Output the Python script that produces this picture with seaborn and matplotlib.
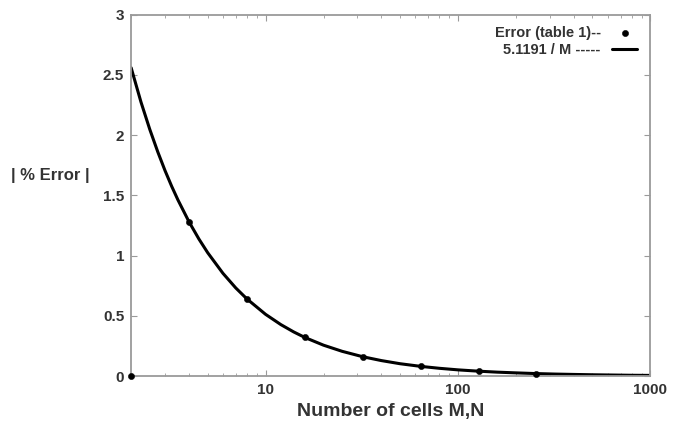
import matplotlib
matplotlib.use("Agg")
import matplotlib.pyplot as plt
import matplotlib.ticker as mticker
import seaborn as sns
import pandas as pd

# measured error values (table 1)
cells_m = [2, 4, 8, 16, 32, 64, 128, 256]
error_pct = [0.0, 1.28, 0.64, 0.32, 0.16, 0.08, 0.04, 0.02]

# fitted curve 5.1191 / M
fit_m = [2, 2.25, 2.5, 2.75, 3, 3.25, 3.5, 4, 4.5, 5, 6, 7, 8, 10, 12, 14,
         16, 20, 25, 32, 40, 50, 64, 80, 100, 128, 160, 200, 256, 320, 400,
         512, 640, 800, 1000]
fit_err = [2.560, 2.275, 2.048, 1.862, 1.706, 1.575, 1.463, 1.280, 1.138,
           1.024, 0.853, 0.731, 0.640, 0.512, 0.427, 0.366, 0.320, 0.256,
           0.205, 0.160, 0.128, 0.102, 0.080, 0.064, 0.051, 0.040, 0.032,
           0.026, 0.020, 0.016, 0.013, 0.010, 0.008, 0.006, 0.005]

x_ticks = [10, 100, 1000]
x_tick_labels = ["10", "100", "1000"]
y_ticks = [0, 0.5, 1, 1.5, 2, 2.5, 3]
y_tick_labels = ["0", "0.5", "1", "1.5", "2", "2.5", "3"]

sns.set_style("ticks")
plt.rcParams["font.family"] = ["Liberation Sans", "DejaVu Sans"]

fig = plt.figure(figsize=(6.76, 4.22), dpi=100)
ax = fig.add_axes([0.194, 0.109, 0.768, 0.856])

pts = pd.DataFrame({"M": cells_m, "err": error_pct})
fit = pd.DataFrame({"M": fit_m, "err": fit_err})

sns.lineplot(data=fit, x="M", y="err", color="black", linewidth=2.2,
             ax=ax, label="5.1191 / M -----", zorder=2)
sns.scatterplot(data=pts, x="M", y="err", color="black", s=20, marker="o",
                edgecolor="black", ax=ax, label="Error (table 1)--", zorder=3,
                clip_on=False)

ax.set_xscale("log")
ax.set_xlim(2, 1000)
ax.set_ylim(0, 3)
ax.set_xticks(x_ticks)
ax.set_xticklabels(x_tick_labels)
ax.xaxis.set_minor_locator(mticker.LogLocator(base=10, subs=range(2, 10)))
ax.xaxis.set_minor_formatter(mticker.NullFormatter())
ax.set_yticks(y_ticks)
ax.set_yticklabels(y_tick_labels)

for s in ax.spines.values():
    s.set_color("#9a9a9a")
    s.set_linewidth(1.3)
ax.tick_params(which="both", direction="in", top=True, right=True,
               color="#9a9a9a", labelsize=11)
ax.tick_params(which="major", length=4, pad=5)
ax.tick_params(which="minor", length=2)
for lab in ax.get_xticklabels() + ax.get_yticklabels():
    lab.set_fontweight("bold")
    lab.set_color("#333333")

ax.set_xlabel("Number of cells M,N", fontsize=14, fontweight="bold",
              color="#333333", labelpad=4)
ax.set_ylabel("| % Error |", fontsize=12, fontweight="bold", color="#333333",
              rotation=0, labelpad=0)
ax.yaxis.set_label_coords(-0.155, 0.535)

handles, labels = ax.get_legend_handles_labels()
leg = ax.legend(handles[::-1], labels[::-1], loc="upper right",
                bbox_to_anchor=(1.0, 1.005), frameon=False, markerfirst=False,
                handlelength=1.7, handletextpad=0.8, labelspacing=0.2,
                prop={"weight": "bold", "size": 10.5})
for t in leg.get_texts():
    t.set_color("#333333")

fig.savefig("out.png", dpi=100)
